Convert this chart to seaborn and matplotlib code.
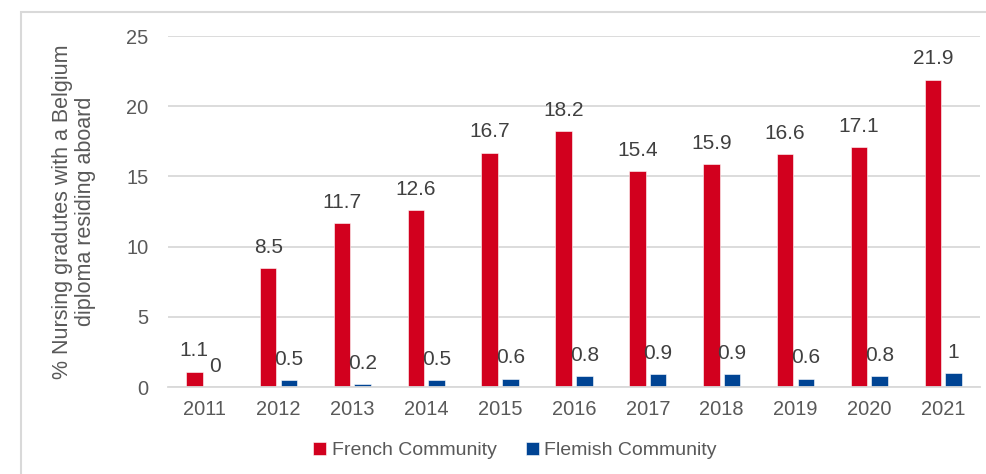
import pandas as pd
import seaborn as sns
import matplotlib.pyplot as plt
from matplotlib.patches import Rectangle

# %% data
years = ['2011', '2012', '2013', '2014', '2015', '2016', '2017', '2018', '2019', '2020', '2021']
french = [1.1, 8.5, 11.7, 12.6, 16.7, 18.2, 15.4, 15.9, 16.6, 17.1, 21.9]
flemish = [0, 0.5, 0.2, 0.5, 0.6, 0.8, 0.9, 0.9, 0.6, 0.8, 1]
communities = ['French Community', 'Flemish Community']
colors = ['#D2001E', '#004494']

df = pd.DataFrame({
    'year': years * 2,
    'value': french + flemish,
    'community': [communities[0]] * len(years) + [communities[1]] * len(years),
})

# %% style
sns.set_style('white')
plt.rcParams['font.family'] = ['Liberation Sans', 'DejaVu Sans']
grey = '#595959'
grid_col = '#d9d9d9'

fig = plt.figure(figsize=(9.87, 4.74), dpi=100)
ax = fig.add_axes([0.170, 0.1835, 0.823, 0.7405])

sns.barplot(data=df, x='year', y='value', hue='community', palette=colors,
            saturation=1, width=0.56, gap=0.2, edgecolor='white', linewidth=0.4, ax=ax)

for cont in ax.containers:
    ax.bar_label(cont, fmt='%g', padding=8, fontsize=15, color='#404040')

# %% axes
ax.set_ylim(0, 25)
ax.set_yticks([0, 5, 10, 15, 20, 25])
ax.yaxis.grid(True, color=grid_col, linewidth=1.3)
ax.set_axisbelow(True)
for s in ['top', 'right', 'left']:
    ax.spines[s].set_visible(False)
ax.spines['bottom'].set_color(grid_col)
ax.spines['bottom'].set_linewidth(1.3)
ax.tick_params(axis='both', length=0, labelsize=14.4, labelcolor=grey)
ax.tick_params(axis='x', pad=9)
ax.tick_params(axis='y', pad=14)
ax.set_xlabel('')
ax.set_ylabel('% Nursing gradutes with a Belgium\ndiploma residing aboard',
              fontsize=15.5, color=grey, labelpad=22, linespacing=1.1)

# %% legend at the bottom
handles, labels = ax.get_legend_handles_labels()
ax.get_legend().remove()
fig.legend(handles, labels, loc='center', bbox_to_anchor=(0.522, 0.049), ncol=2,
           frameon=False, fontsize=14, labelcolor=grey, handlelength=0.65,
           handleheight=0.65, handletextpad=0.3, columnspacing=1.5)

# %% outer frame
fig.patches.append(Rectangle((21 / 987, -0.02), 1.0, 0.9947, transform=fig.transFigure,
                             fill=False, edgecolor=grid_col, linewidth=1.5))

fig.savefig('out.png', dpi=100)
